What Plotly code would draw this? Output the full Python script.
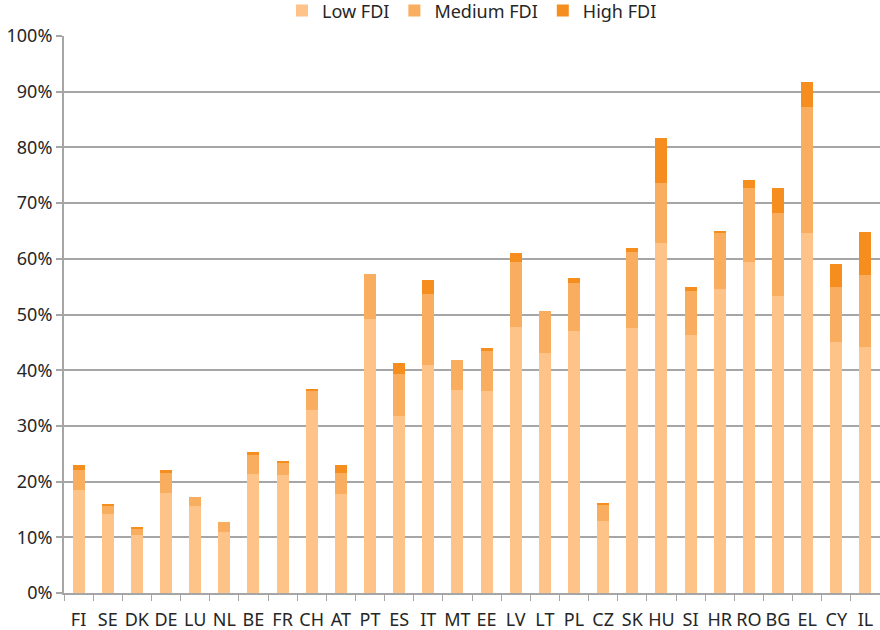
import plotly.graph_objects as go

countries = ["FI", "SE", "DK", "DE", "LU", "NL", "BE", "FR", "CH", "AT",
             "PT", "ES", "IT", "MT", "EE", "LV", "LT", "PL", "CZ", "SK",
             "HU", "SI", "HR", "RO", "BG", "EL", "CY", "IL"]

# shares in percent, stacked bottom to top
low_fdi = [18.5, 14.2, 10.5, 18.0, 15.7, 11.0, 21.4, 21.2, 32.9, 17.7,
           49.2, 31.8, 41.0, 36.5, 36.3, 47.8, 43.1, 47.1, 13.0, 47.6,
           62.9, 46.4, 54.6, 59.4, 53.3, 64.6, 45.1, 44.2]
medium_fdi = [3.5, 1.5, 1.0, 3.6, 1.6, 1.8, 3.4, 2.2, 3.4, 3.9,
              8.1, 7.6, 12.7, 5.35, 7.2, 11.6, 7.5, 8.6, 2.85, 13.6,
              10.7, 7.9, 10.0, 13.4, 14.9, 22.6, 9.9, 12.9]
high_fdi = [1.0, 0.2, 0.4, 0.4, 0.0, 0.0, 0.6, 0.35, 0.35, 1.3,
            0.0, 1.95, 2.5, 0.0, 0.5, 1.6, 0.0, 0.9, 0.2, 0.7,
            8.1, 0.7, 0.4, 1.3, 4.6, 4.5, 4.1, 7.7]

series = [
    ("Low FDI", low_fdi, "#fdc389"),
    ("Medium FDI", medium_fdi, "#f9ad5f"),
    ("High FDI", high_fdi, "#f68d1f"),
]

fig = go.Figure()
for name, vals, color in series:
    fig.add_trace(go.Bar(
        x=countries, y=vals, name=name,
        marker=dict(color=color, line=dict(width=0)),
        width=0.41,
    ))

fig.update_layout(
    barmode="stack",
    width=880, height=630,
    margin=dict(l=64, r=0, t=36, b=37, autoexpand=False),
    paper_bgcolor="white",
    plot_bgcolor="white",
    font=dict(family="Noto Sans", size=18, color="#262626"),
    legend=dict(
        orientation="h", x=0.5, xanchor="center", y=1.012, yanchor="bottom",
        font=dict(size=18), itemwidth=30, traceorder="normal",
    ),
    xaxis=dict(
        type="category",
        tickson="boundaries",
        tickangle=0,
        ticks="outside", ticklen=6, tickcolor="#a6a6a6", tickwidth=1,
        showline=True, linecolor="#a6a6a6", linewidth=2,
        showgrid=False,
        tickfont=dict(size=18),
        ticklabelstandoff=9,
    ),
    yaxis=dict(
        range=[0, 100], dtick=10, ticksuffix="%",
        showgrid=True, gridcolor="#a6a6a6", gridwidth=2,
        ticks="outside", ticklen=6, tickcolor="#a6a6a6", tickwidth=2,
        showline=True, linecolor="#a6a6a6", linewidth=2,
        zeroline=False,
        tickfont=dict(size=18),
    ),
)

fig.write_html("out.html")
